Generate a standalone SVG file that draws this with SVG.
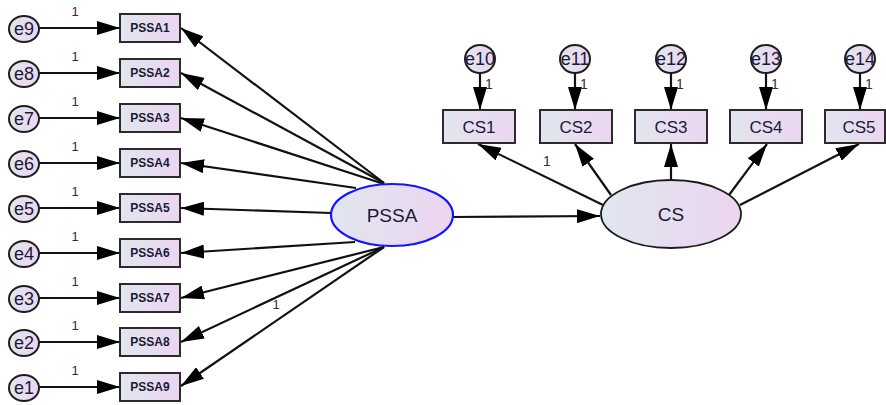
<svg xmlns="http://www.w3.org/2000/svg" width="886" height="405" viewBox="0 0 886 405">
  <defs>
    <linearGradient id="fillObs" x1="0" y1="0" x2="1" y2="0">
      <stop offset="0" stop-color="#e1e6ef"/>
      <stop offset="1" stop-color="#ecd5f0"/>
    </linearGradient>
    <marker id="arrow" markerUnits="userSpaceOnUse" markerWidth="24" markerHeight="14" refX="23" refY="7" orient="auto">
      <path d="M0,0 L23,7 L0,14 z" fill="#000"/>
    </marker>
    <style>
      .box { fill: url(#fillObs); stroke: #2b2b2b; stroke-width: 2; }
      .err { fill: url(#fillObs); stroke: #1e1e1e; stroke-width: 2; }
      .lat { fill: url(#fillObs); stroke: #1a1a1a; stroke-width: 1.8; }
      .latb { fill: url(#fillObs); stroke: #1414ff; stroke-width: 2.2; }
      .path { stroke: #111; stroke-width: 2.2; fill: none; marker-end: url(#arrow); }
      text { font-family: "Liberation Sans", Arial, sans-serif; fill: #1a1a36; text-anchor: middle; }
      .small { font-size: 12px; font-weight: bold; }
      .cs { font-size: 17px; }
      .elab { font-size: 18px; }
      .big { font-size: 19px; }
      .one { font-size: 13px; fill: #4a2035; }
      .oneo { font-size: 14px; fill: #3a2a40; text-anchor: start; }
    </style>
  </defs>

  <!-- connectors -->
  <g id="connectors">
    <!-- error terms to PSSA indicators -->
    <line class="path" x1="39" y1="28" x2="120" y2="28"/>
    <line class="path" x1="39" y1="73" x2="120" y2="73"/>
    <line class="path" x1="39" y1="118" x2="120" y2="118"/>
    <line class="path" x1="39" y1="163" x2="120" y2="163"/>
    <line class="path" x1="39" y1="208" x2="120" y2="208"/>
    <line class="path" x1="39" y1="253" x2="120" y2="253"/>
    <line class="path" x1="39" y1="298" x2="120" y2="298"/>
    <line class="path" x1="39" y1="342" x2="120" y2="342"/>
    <line class="path" x1="39" y1="387" x2="120" y2="387"/>
    <!-- PSSA loadings -->
    <line class="path" x1="384" y1="183" x2="181" y2="28"/>
    <line class="path" x1="384" y1="183" x2="181" y2="73"/>
    <line class="path" x1="384" y1="184" x2="181" y2="118"/>
    <line class="path" x1="356" y1="188" x2="181" y2="163"/>
    <line class="path" x1="331" y1="213" x2="181" y2="208"/>
    <line class="path" x1="355" y1="242" x2="181" y2="253"/>
    <line class="path" x1="384" y1="247" x2="181" y2="298"/>
    <line class="path" x1="384" y1="247" x2="181" y2="342"/>
    <line class="path" x1="384" y1="247" x2="181" y2="386"/>
    <!-- structural path -->
    <line class="path" x1="453" y1="217" x2="600" y2="216"/>
    <!-- CS loadings -->
    <line class="path" x1="603" y1="205" x2="478" y2="144"/>
    <line class="path" x1="611" y1="195" x2="575" y2="144"/>
    <line class="path" x1="671" y1="180" x2="671" y2="144"/>
    <line class="path" x1="729" y1="195" x2="767" y2="144"/>
    <line class="path" x1="740" y1="205" x2="859" y2="144"/>
    <!-- error terms to CS indicators -->
    <line class="path" x1="480" y1="73" x2="480" y2="110"/>
    <line class="path" x1="575" y1="73" x2="575" y2="110"/>
    <line class="path" x1="671" y1="73" x2="671" y2="110"/>
    <line class="path" x1="766" y1="73" x2="766" y2="110"/>
    <line class="path" x1="860" y1="73" x2="860" y2="110"/>
    <!-- fixed loadings -->
    <text class="one" x="75" y="16">1</text>
    <text class="one" x="75" y="61">1</text>
    <text class="one" x="75" y="106">1</text>
    <text class="one" x="75" y="151">1</text>
    <text class="one" x="75" y="196">1</text>
    <text class="one" x="75" y="241">1</text>
    <text class="one" x="75" y="286">1</text>
    <text class="one" x="75" y="330">1</text>
    <text class="one" x="75" y="375">1</text>
    <text class="one" x="276" y="309">1</text>
    <text class="oneo" x="543" y="166">1</text>
    <text class="oneo" x="485" y="89">1</text>
    <text class="oneo" x="580" y="89">1</text>
    <text class="oneo" x="676" y="89">1</text>
    <text class="oneo" x="771" y="89">1</text>
    <text class="oneo" x="865" y="89">1</text>
  </g>

  <!-- PSSA side -->
  <g id="e9"><ellipse class="err" cx="24" cy="29" rx="15" ry="13"/><text class="elab" x="24" y="35">e9</text></g>
  <g id="e8"><ellipse class="err" cx="24" cy="74" rx="15" ry="13"/><text class="elab" x="24" y="80">e8</text></g>
  <g id="e7"><ellipse class="err" cx="24" cy="119" rx="15" ry="13"/><text class="elab" x="24" y="125">e7</text></g>
  <g id="e6"><ellipse class="err" cx="24" cy="164" rx="15" ry="13"/><text class="elab" x="24" y="170">e6</text></g>
  <g id="e5"><ellipse class="err" cx="24" cy="209" rx="15" ry="13"/><text class="elab" x="24" y="215">e5</text></g>
  <g id="e4"><ellipse class="err" cx="24" cy="254" rx="15" ry="13"/><text class="elab" x="24" y="260">e4</text></g>
  <g id="e3"><ellipse class="err" cx="24" cy="299" rx="15" ry="13"/><text class="elab" x="24" y="305">e3</text></g>
  <g id="e2"><ellipse class="err" cx="24" cy="343" rx="15" ry="13"/><text class="elab" x="24" y="349">e2</text></g>
  <g id="e1"><ellipse class="err" cx="24" cy="388" rx="15" ry="13"/><text class="elab" x="24" y="394">e1</text></g>

  <g id="PSSA1"><rect class="box" x="120" y="14" width="60" height="28"/><text class="small" x="150" y="32">PSSA1</text></g>
  <g id="PSSA2"><rect class="box" x="120" y="59" width="60" height="28"/><text class="small" x="150" y="77">PSSA2</text></g>
  <g id="PSSA3"><rect class="box" x="120" y="104" width="60" height="28"/><text class="small" x="150" y="122">PSSA3</text></g>
  <g id="PSSA4"><rect class="box" x="120" y="149" width="60" height="28"/><text class="small" x="150" y="167">PSSA4</text></g>
  <g id="PSSA5"><rect class="box" x="120" y="194" width="60" height="28"/><text class="small" x="150" y="212">PSSA5</text></g>
  <g id="PSSA6"><rect class="box" x="120" y="239" width="60" height="28"/><text class="small" x="150" y="257">PSSA6</text></g>
  <g id="PSSA7"><rect class="box" x="120" y="284" width="60" height="28"/><text class="small" x="150" y="302">PSSA7</text></g>
  <g id="PSSA8"><rect class="box" x="120" y="328" width="60" height="28"/><text class="small" x="150" y="346">PSSA8</text></g>
  <g id="PSSA9"><rect class="box" x="120" y="373" width="60" height="28"/><text class="small" x="150" y="391">PSSA9</text></g>

  <g id="PSSA"><ellipse class="latb" cx="392" cy="215" rx="61" ry="31"/><text class="big" x="392" y="222">PSSA</text></g>

  <!-- CS side -->
  <g id="CS"><ellipse class="lat" cx="671" cy="214" rx="70" ry="34"/><text class="big" x="671" y="221">CS</text></g>

  <g id="CS1"><rect class="box" x="443" y="110" width="72" height="33"/><text class="cs" x="479" y="133">CS1</text></g>
  <g id="CS2"><rect class="box" x="540" y="110" width="72" height="33"/><text class="cs" x="576" y="133">CS2</text></g>
  <g id="CS3"><rect class="box" x="635" y="110" width="72" height="33"/><text class="cs" x="671" y="133">CS3</text></g>
  <g id="CS4"><rect class="box" x="730" y="110" width="72" height="33"/><text class="cs" x="766" y="133">CS4</text></g>
  <g id="CS5"><rect class="box" x="825" y="110" width="60" height="33"/><text class="cs" x="859" y="133">CS5</text></g>

  <g id="e10"><ellipse class="err" cx="480" cy="59" rx="15" ry="14"/><text class="elab" x="480" y="65">e10</text></g>
  <g id="e11"><ellipse class="err" cx="575" cy="59" rx="15" ry="14"/><text class="elab" x="575" y="65">e11</text></g>
  <g id="e12"><ellipse class="err" cx="671" cy="59" rx="15" ry="14"/><text class="elab" x="671" y="65">e12</text></g>
  <g id="e13"><ellipse class="err" cx="766" cy="59" rx="15" ry="14"/><text class="elab" x="766" y="65">e13</text></g>
  <g id="e14"><ellipse class="err" cx="860" cy="59" rx="15" ry="14"/><text class="elab" x="860" y="65">e14</text></g>
</svg>
